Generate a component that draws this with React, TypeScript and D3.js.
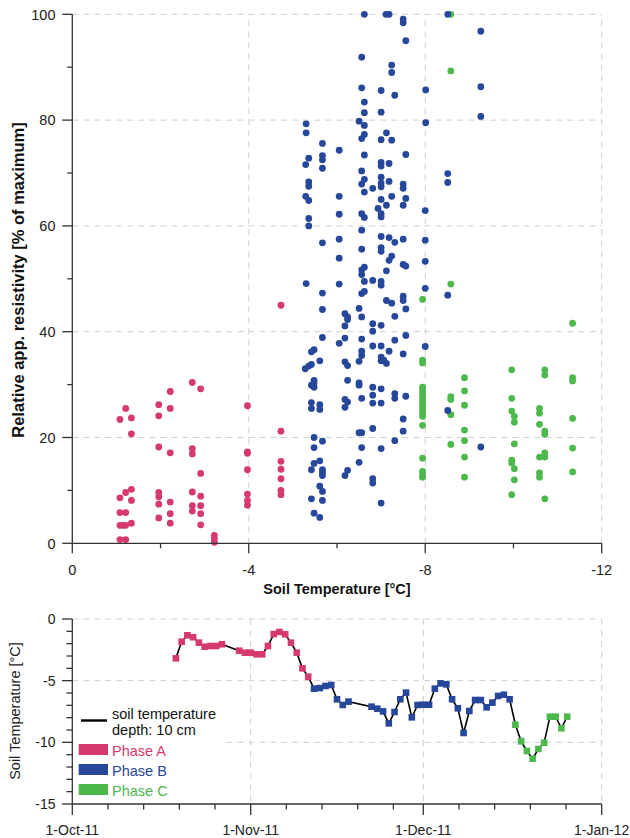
import React from "react";
import * as d3 from "d3";

// ---------- Top scatter data: [soil temperature °C, relative resistivity %] ----------
const phaseA: [number, number][] = [
  [-1.08, 23.4], [-1.21, 25.5], [-1.34, 23.7], [-1.34, 20.7], [-1.08, 8.6], [-1.21, 9.6], [-1.34, 10.2], [-1.34, 8.1],
  [-1.08, 5.8], [-1.21, 5.8], [-1.08, 3.4], [-1.15, 3.4], [-1.21, 3.4], [-1.34, 3.8], [-1.08, 0.7], [-1.21, 0.7],
  [-1.96, 26.2], [-1.96, 24.1], [-2.22, 28.7], [-2.22, 25.5], [-1.96, 18.2], [-2.22, 17.1], [-1.96, 9.6], [-1.96, 8.8],
  [-1.96, 7.4], [-1.96, 4.8], [-2.22, 7.8], [-2.22, 5.6], [-2.22, 3.8],
  [-2.72, 30.4], [-2.91, 29.2], [-2.72, 17.9], [-2.72, 16.9], [-2.91, 13.2], [-2.72, 9.7], [-2.72, 7.1], [-2.72, 6.1],
  [-2.91, 8.9], [-2.91, 7.1], [-2.91, 5.6], [-2.91, 3.5],
  [-3.22, 1.5], [-3.22, 0.9], [-3.22, 0.2],
  [-3.97, 26.0], [-3.97, 17.3], [-3.97, 17.0], [-3.97, 13.9], [-3.97, 9.3], [-3.97, 8.1], [-3.97, 7.2],
  [-4.73, 45.0], [-4.73, 21.2], [-4.73, 15.5], [-4.73, 14.0], [-4.73, 12.2], [-4.73, 10.0], [-4.73, 9.2],
];

const phaseB: [number, number][] = [
  [-6.62, 100], [-7.11, 100], [-7.18, 100], [-7.5, 99.1], [-7.5, 98.4], [-7.56, 95.0], [-6.56, 91.9], [-7.24, 90.4],
  [-7.24, 89.0], [-6.56, 86.1], [-7.0, 85.6], [-7.31, 84.7], [-8.01, 85.7], [-6.62, 83.4], [-6.62, 81.4], [-7.0, 81.5],
  [-8.01, 79.5], [-5.3, 79.3], [-5.3, 77.6], [-6.5, 79.8], [-6.62, 79.0], [-7.12, 77.6], [-6.62, 77.3], [-6.56, 76.5],
  [-7.0, 76.3], [-7.24, 76.2], [-5.67, 75.6], [-6.05, 74.3], [-5.36, 72.8], [-5.29, 71.6], [-5.67, 73.3], [-5.67, 72.5],
  [-5.67, 70.9], [-6.62, 73.4], [-7.56, 73.5], [-7.0, 72.0], [-7.0, 71.3], [-7.18, 71.8], [-6.56, 70.4], [-7.0, 69.2],
  [-6.62, 68.8], [-6.56, 67.9], [-7.18, 68.4], [-6.81, 67.1], [-7.0, 68.1], [-7.0, 67.4], [-7.5, 67.9], [-7.5, 67.1],
  [-6.62, 66.4], [-5.36, 68.3], [-5.36, 67.5], [-5.29, 65.6], [-6.05, 65.6], [-7.24, 65.6], [-7.56, 65.2], [-7.0, 65.0],
  [-8.51, 69.9], [-8.51, 68.2], [-8.51, 100], [-9.26, 96.8], [-9.26, 86.3], [-9.26, 80.7],
  [-5.36, 64.8], [-7.5, 63.9], [-6.93, 63.3], [-7.12, 63.9], [-7.0, 62.3], [-7.0, 61.7], [-8.0, 62.9], [-5.36, 61.4],
  [-5.36, 60.0], [-6.05, 62.2], [-6.56, 62.3], [-6.62, 61.6], [-6.56, 59.2], [-5.67, 56.8], [-6.05, 57.5], [-6.56, 55.6],
  [-7.0, 58.0], [-7.18, 57.8], [-7.31, 56.9], [-7.5, 57.5], [-8.0, 57.3], [-7.0, 55.9], [-7.0, 55.2], [-7.24, 54.3],
  [-7.18, 53.5], [-6.05, 53.9], [-7.5, 52.7], [-7.56, 52.4], [-8.0, 53.3], [-6.62, 52.2], [-6.56, 51.7], [-6.56, 50.8],
  [-7.12, 51.5], [-6.62, 49.5], [-6.81, 49.7], [-7.0, 49.5], [-7.0, 48.8], [-5.3, 49.1], [-6.05, 49.0], [-5.67, 47.3],
  [-6.56, 47.2], [-6.62, 47.6], [-7.5, 46.7], [-7.5, 45.9], [-8.0, 48.2], [-8.51, 46.9], [-5.67, 44.2], [-6.5, 44.4],
  [-7.12, 45.9], [-7.24, 45.4], [-7.56, 44.3], [-6.18, 43.4], [-6.24, 42.8], [-6.24, 42.3], [-6.56, 42.8], [-7.31, 42.9],
  [-6.81, 41.5], [-6.81, 40.1], [-7.0, 41.2], [-6.18, 41.1], [-5.67, 38.9], [-6.18, 38.8], [-6.05, 37.8], [-6.56, 38.6],
  [-6.81, 37.3], [-7.0, 37.3], [-7.31, 38.4], [-7.56, 39.3], [-8.0, 37.2], [-6.56, 36.3], [-6.56, 35.5], [-6.5, 34.4],
  [-7.0, 35.2], [-7.0, 34.5], [-7.06, 34.6], [-7.12, 34.0], [-7.18, 36.3], [-7.5, 35.8], [-5.42, 36.2], [-5.48, 36.6],
  [-5.61, 34.5], [-6.18, 34.3], [-6.24, 33.6], [-5.28, 33.0], [-5.36, 33.5], [-5.42, 33.8], [-5.48, 30.8], [-6.24, 30.8],
  [-5.42, 29.9], [-5.48, 30.3], [-5.48, 29.5], [-6.5, 30.3], [-6.5, 29.9], [-6.81, 29.5], [-7.0, 29.2], [-7.31, 28.3],
  [-7.31, 27.4], [-7.56, 27.8], [-6.18, 27.2], [-6.24, 26.7], [-6.18, 25.7], [-6.56, 27.4], [-6.81, 28.0], [-6.81, 26.5],
  [-7.0, 26.5], [-5.42, 26.6], [-5.42, 25.5], [-5.61, 26.2], [-5.61, 25.3], [-8.51, 25.1], [-7.5, 23.5], [-7.5, 21.2],
  [-6.81, 21.7], [-6.5, 20.9], [-6.56, 20.9], [-7.31, 19.4], [-5.48, 20.0], [-5.67, 19.3], [-5.48, 18.1], [-6.56, 18.1],
  [-7.0, 17.9], [-6.5, 15.3], [-5.48, 15.1], [-5.61, 15.6], [-5.42, 13.9], [-5.67, 13.9], [-5.67, 13.3], [-5.67, 12.8],
  [-6.24, 13.8], [-6.18, 12.8], [-6.81, 12.2], [-6.81, 11.4], [-5.61, 10.8], [-5.67, 9.8], [-5.42, 8.4], [-5.67, 8.1],
  [-7.0, 7.6], [-5.48, 5.7], [-5.61, 4.9], [-9.26, 18.2],
];

const phaseC: [number, number][] = [
  [-8.58, 100], [-8.58, 89.3], [-8.58, 49.0], [-7.94, 46.1], [-7.94, 34.6], [-7.94, 34.1],
  [-7.94, 29.5], [-7.94, 28.9], [-7.94, 28.3], [-7.94, 27.7], [-7.94, 27.0], [-7.94, 26.4], [-7.94, 25.8], [-7.94, 25.1],
  [-7.94, 24.5], [-7.94, 24.0], [-7.94, 22.3], [-7.94, 16.1], [-7.94, 13.6], [-7.94, 13.0], [-7.94, 12.5],
  [-8.58, 27.7], [-8.58, 27.2], [-8.58, 24.3], [-8.58, 18.7],
  [-8.89, 31.3], [-8.89, 28.8], [-8.89, 26.1], [-8.89, 21.4], [-8.89, 19.4], [-8.89, 16.3], [-8.89, 12.5],
  [-9.96, 32.8], [-9.96, 27.4], [-9.96, 25.0], [-10.02, 24.0], [-10.02, 22.9], [-10.02, 18.8], [-9.96, 15.7],
  [-9.96, 15.2], [-10.02, 14.1], [-10.02, 12.0], [-9.96, 9.2],
  [-10.71, 32.8], [-10.71, 31.8], [-10.59, 25.5], [-10.59, 24.6], [-10.59, 22.5], [-10.71, 21.2], [-10.71, 20.6],
  [-10.71, 17.1], [-10.71, 16.3], [-10.59, 16.3], [-10.59, 13.3], [-10.59, 12.5], [-10.71, 8.4],
  [-11.34, 41.6], [-11.34, 31.3], [-11.34, 30.7], [-11.34, 23.6], [-11.34, 18.0], [-11.34, 13.5],
];

const scatterXTicks = [0, -4, -8, -12];
const scatterYTicks = [0, 20, 40, 60, 80, 100];

// ---------- Bottom time series ----------
const seriesDates = [
  "2011-10-19", "2011-10-20", "2011-10-21", "2011-10-22", "2011-10-23", "2011-10-24", "2011-10-25", "2011-10-26",
  "2011-10-27", "2011-10-30", "2011-10-31", "2011-11-01", "2011-11-02", "2011-11-03", "2011-11-04", "2011-11-05",
  "2011-11-06", "2011-11-07", "2011-11-08", "2011-11-09", "2011-11-10", "2011-11-11",
  "2011-11-12", "2011-11-13", "2011-11-14", "2011-11-15", "2011-11-16", "2011-11-17", "2011-11-18", "2011-11-22",
  "2011-11-23", "2011-11-24", "2011-11-25", "2011-11-26", "2011-11-27", "2011-11-28", "2011-11-29", "2011-11-30",
  "2011-12-01", "2011-12-02", "2011-12-03", "2011-12-04", "2011-12-05", "2011-12-06", "2011-12-07", "2011-12-08",
  "2011-12-09", "2011-12-10", "2011-12-11", "2011-12-12", "2011-12-13", "2011-12-14", "2011-12-15", "2011-12-16",
  "2011-12-17", "2011-12-18", "2011-12-19", "2011-12-20", "2011-12-21", "2011-12-22", "2011-12-23", "2011-12-24",
  "2011-12-25", "2011-12-26",
];
const seriesTemps = [
  -3.19, -1.84, -1.32, -1.48, -1.92, -2.25, -2.19, -2.19, -2.05, -2.57, -2.73, -2.73, -2.86, -2.86, -2.19, -1.22,
  -1.05, -1.24, -1.92, -2.73, -4.0, -4.68,
  -5.65, -5.6, -5.43, -5.35, -6.51, -6.97, -6.7, -7.11, -7.27, -7.49, -8.46, -7.54, -6.51, -5.97, -7.97, -6.97,
  -6.95, -6.95, -5.65, -5.22, -5.3, -6.51, -7.24, -9.24, -7.46, -6.57, -6.57, -7.16, -6.78, -6.24, -6.14, -6.51,
  -8.57, -9.92, -10.7, -11.33, -10.54, -10.03, -7.92, -7.92, -8.86, -7.92,
];
const seriesPhases = [
  ...Array(22).fill("A"),
  ...Array(32).fill("B"),
  ...Array(10).fill("C"),
];
const monthStarts = ["2011-10-01", "2011-11-01", "2011-12-01", "2012-01-01"];
const monthLabels = ["1-Oct-11", "1-Nov-11", "1-Dec-11", "1-Jan-12"];
const tempTicks = [0, -5, -10, -15];

const phaseColors: Record<string, string> = { A: "#d6396c", B: "#27479b", C: "#4db84c" };
const phaseNames = ["A", "B", "C"];

const FONT = "'Liberation Sans', Arial, Helvetica, sans-serif";
const GRID = "#cfcfcf";
const AXIS = "#333";

export default function App() {
  // top scales
  const x = d3.scaleLinear().domain([0, -12]).range([72.3, 601.7]);
  const y = d3.scaleLinear().domain([0, 100]).range([543.3, 14.3]);
  // bottom scales
  const parse = (s: string) => new Date(s + "T00:00:00Z");
  const t = d3.scaleUtc().domain([parse("2011-10-01"), parse("2012-01-01")]).range([72.3, 601.7]);
  const yb = d3.scaleLinear().domain([0, -15]).range([619, 804]);

  const pts = seriesDates.map((d, i) => ({ date: parse(d), v: seriesTemps[i], p: seriesPhases[i] }));
  const line = d3.line<{ date: Date; v: number }>().x((d) => t(d.date)).y((d) => yb(d.v));

  const yMinor = d3.range(10, 100, 20);
  const xMinor = [-2, -6, -10];
  const tMinor: Date[] = [];
  for (let m = 0; m < 3; m++) {
    const s = parse(monthStarts[m]).getTime();
    for (let k = 1; k <= 4; k++) tMinor.push(new Date(s + k * 6.2 * 86400000));
  }
  const ybMinor = d3.range(-1, -15, -1).filter((v) => v % 5 !== 0);

  const x0 = x(0), xEnd = x(-12);
  const tEnd = t(parse("2012-01-01"));

  return (
    <svg width={630} height={838} style={{ position: "absolute", left: 0, top: 0, fontFamily: FONT }}>
      <rect width={630} height={838} fill="#fff" />
      {/* ===== TOP CHART ===== */}
      {scatterYTicks.filter((v) => v > 0).map((v) => (
        <line key={"gy" + v} x1={x0} x2={xEnd} y1={y(v)} y2={y(v)} stroke={GRID} strokeDasharray="6,5" />
      ))}
      {scatterXTicks.filter((v) => v < 0).map((v) => (
        <line key={"gx" + v} x1={x(v)} x2={x(v)} y1={y(0)} y2={y(100)} stroke={GRID} strokeDasharray="6,5" />
      ))}
      {phaseC.map(([tv, v], i) => (
        <circle key={"c" + i} cx={x(tv)} cy={y(v)} r={3.4} fill={phaseColors.C} />
      ))}
      {phaseA.map(([tv, v], i) => (
        <circle key={"a" + i} cx={x(tv)} cy={y(v)} r={3.4} fill={phaseColors.A} />
      ))}
      {phaseB.map(([tv, v], i) => (
        <circle key={"b" + i} cx={x(tv)} cy={y(v)} r={3.4} fill={phaseColors.B} />
      ))}
      {/* axes */}
      <line x1={x0} x2={x0} y1={y(100)} y2={y(0)} stroke={AXIS} strokeWidth={1.3} />
      <line x1={x0} x2={xEnd} y1={y(0)} y2={y(0)} stroke={AXIS} strokeWidth={1.3} />
      {scatterYTicks.map((v) => (
        <g key={"yt" + v}>
          <line x1={x0 - 10} x2={x0} y1={y(v)} y2={y(v)} stroke={AXIS} strokeWidth={1.3} />
          <text x={55.5} y={y(v)} dy="0.36em" textAnchor="end" fontSize={14.5} fill="#222">{v}</text>
        </g>
      ))}
      {yMinor.map((v) => (
        <line key={"ym" + v} x1={x0 - 5} x2={x0} y1={y(v)} y2={y(v)} stroke={AXIS} strokeWidth={1.3} />
      ))}
      {scatterXTicks.map((v) => (
        <g key={"xt" + v}>
          <line x1={x(v)} x2={x(v)} y1={y(0)} y2={y(0) + 10} stroke={AXIS} strokeWidth={1.3} />
          <text x={x(v)} y={574.5} textAnchor="middle" fontSize={14.5} fill="#222">{v === 0 ? "0" : String(v)}</text>
        </g>
      ))}
      {xMinor.map((v) => (
        <line key={"xm" + v} x1={x(v)} x2={x(v)} y1={y(0)} y2={y(0) + 5} stroke={AXIS} strokeWidth={1.3} />
      ))}
      <text x={337} y={594} textAnchor="middle" fontSize={14.5} fontWeight="bold" fill="#111">Soil Temperature [°C]</text>
      <text transform="translate(24,280) rotate(-90)" textAnchor="middle" fontSize={16.5} fontWeight="bold" fill="#111">
        Relative app. resistivity [% of maximum]
      </text>

      {/* ===== BOTTOM CHART ===== */}
      {tempTicks.filter((v) => v > -15).map((v) => (
        <line key={"bgy" + v} x1={t.range()[0]} x2={tEnd} y1={yb(v)} y2={yb(v)} stroke={GRID} strokeDasharray="6,5" />
      ))}
      {monthStarts.slice(1).map((m) => (
        <line key={"bgx" + m} x1={t(parse(m))} x2={t(parse(m))} y1={yb(0)} y2={yb(-15)} stroke={GRID} strokeDasharray="6,5" />
      ))}
      <path d={line(pts) || ""} fill="none" stroke="#000" strokeWidth={1.6} />
      {pts.map((d, i) => (
        <rect key={"sq" + i} x={t(d.date) - 3.3} y={yb(d.v) - 3.3} width={6.6} height={6.6} fill={phaseColors[d.p]} />
      ))}
      {/* legend background */}
      <rect x={74} y={702} width={150} height={100} fill="#fff" />
      <line x1={72.3} x2={72.3} y1={yb(0)} y2={yb(-15)} stroke={AXIS} strokeWidth={1.3} />
      <line x1={72.3} x2={tEnd} y1={yb(-15)} y2={yb(-15)} stroke={AXIS} strokeWidth={1.3} />
      {tempTicks.map((v) => (
        <g key={"byt" + v}>
          <line x1={62} x2={72.3} y1={yb(v)} y2={yb(v)} stroke={AXIS} strokeWidth={1.3} />
          <text x={55.5} y={yb(v)} dy="0.36em" textAnchor="end" fontSize={14} fill="#222">{v}</text>
        </g>
      ))}
      {ybMinor.map((v) => (
        <line key={"bym" + v} x1={66.5} x2={72.3} y1={yb(v)} y2={yb(v)} stroke={AXIS} strokeWidth={1.3} />
      ))}
      {monthStarts.map((m, i) => (
        <g key={"bxt" + m}>
          <line x1={t(parse(m))} x2={t(parse(m))} y1={yb(-15)} y2={yb(-15) + 11} stroke={AXIS} strokeWidth={1.3} />
          <text x={t(parse(m))} y={835} textAnchor="middle" fontSize={14} fill="#222">{monthLabels[i]}</text>
        </g>
      ))}
      {tMinor.map((d, i) => (
        <line key={"bxm" + i} x1={t(d)} x2={t(d)} y1={yb(-15)} y2={yb(-15) + 5.5} stroke={AXIS} strokeWidth={1.3} />
      ))}
      <text transform="translate(20,711) rotate(-90)" textAnchor="middle" fontSize={14.5} fill="#222">Soil Temperature [°C]</text>

      {/* legend */}
      <line x1={81} x2={107} y1={720.5} y2={720.5} stroke="#000" strokeWidth={2.4} />
      <text x={112} y={719} fontSize={14.5} fill="#111">soil temperature</text>
      <text x={112} y={735} fontSize={14.5} fill="#111">depth: 10 cm</text>
      {phaseNames.map((p, i) => (
        <g key={"lg" + p}>
          <rect x={78.7} y={744 + i * 20} width={29.3} height={11} fill={phaseColors[p]} />
          <text x={112} y={755.5 + i * 20} fontSize={14.5} fill={phaseColors[p]}>{"Phase " + p}</text>
        </g>
      ))}
    </svg>
  );
}
